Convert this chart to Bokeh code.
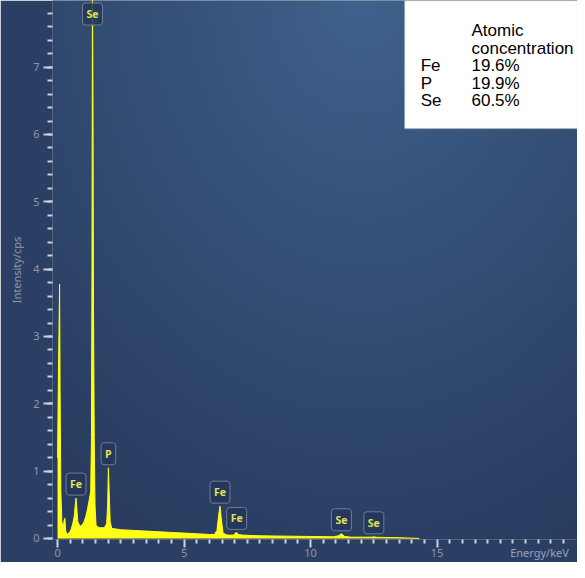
import numpy as np
from bokeh.plotting import figure
from bokeh.models import (Range1d, SingleIntervalTicker, FixedTicker, LinearAxis,
                          BoxAnnotation, ColumnDataSource)
from bokeh.core.properties import value
from bokeh.embed import file_html
from bokeh.resources import INLINE

# ---------------- data ----------------
energy_kev = [0.00, 0.04, 0.08, 0.10, 0.13, 0.17, 0.22, 0.26, 0.29, 0.32, 0.37,
              0.45, 0.53, 0.60, 0.66, 0.70, 0.73, 0.76, 0.80, 0.86, 0.92, 1.00,
              1.05, 1.12, 1.19, 1.26, 1.31, 1.34, 1.36, 1.38, 1.40, 1.42, 1.45,
              1.48, 1.52, 1.58, 1.70, 1.85, 1.94, 1.98, 2.01, 2.04, 2.08, 2.14,
              2.50, 3.00, 3.50, 4.00, 4.50, 5.00, 5.50, 6.00, 6.20, 6.30, 6.37,
              6.42, 6.47, 6.54, 6.70, 6.95, 7.03, 7.08, 7.14, 7.30, 8.00, 9.00,
              10.00, 10.90, 11.10, 11.22, 11.35, 11.60, 12.40, 12.50, 12.60,
              13.50, 14.30]
intensity_cps = [1.20, 2.60, 3.78, 2.20, 0.70, 0.25, 0.15, 0.27, 0.30, 0.12, 0.06,
                 0.08, 0.13, 0.22, 0.33, 0.50, 0.60, 0.45, 0.25, 0.20, 0.18, 0.22,
                 0.25, 0.33, 0.45, 0.59, 0.70, 1.50, 4.00, 8.30, 6.60, 3.50, 1.50,
                 0.50, 0.20, 0.17, 0.16, 0.16, 0.22, 0.50, 1.05, 0.70, 0.25, 0.15,
                 0.13, 0.12, 0.11, 0.10, 0.09, 0.08, 0.07, 0.06, 0.06, 0.12, 0.35,
                 0.48, 0.30, 0.08, 0.05, 0.05, 0.08, 0.09, 0.06, 0.05, 0.04, 0.035,
                 0.03, 0.025, 0.04, 0.07, 0.03, 0.02, 0.02, 0.025, 0.018,
                 0.012, 0.0]

peak_labels = ["Se", "Fe", "P", "Fe", "Fe", "Se", "Se"]
peak_energy = [1.38, 0.73, 2.01, 6.42, 7.08, 11.22, 12.50]

conc_header = ["Atomic", "concentration"]
elements = ["Fe", "P", "Se"]
atomic_conc = ["19.6%", "19.9%", "60.5%"]

x_tick_values = [0, 5, 10, 15]
x_tick_labels = ["0", "5", "10", "15"]
x_minor_step = 0.5
x_axis_end = 20
x_title = "Energy/keV"
y_title = "Intensity/cps"

# ---------------- styling ----------------
X0, X1 = -0.2, 20.55
Y0, Y1 = -0.015, 7.99
X_TITLE_POS = 19.05
EDGE = np.array([41, 60, 96])
CENTER = np.array([64, 98, 140])
BORDER = "#2b3f64"
YELLOW = "#ffff14"
TICK_COL = "#c9d1de"
LAB_COL = "#8c99b0"

p = figure(width=577, height=562, x_range=Range1d(X0, X1), y_range=Range1d(Y0, Y1),
           output_backend="svg", toolbar_location=None,
           min_border_left=52, min_border_right=0, min_border_top=0, min_border_bottom=0)
p.grid.visible = False
p.outline_line_color = None
p.background_fill_color = BORDER
p.border_fill_color = BORDER

# background gradient of the plot panel
nx, ny = 263, 270
U, V = np.meshgrid(np.linspace(0, 1, nx), np.linspace(0, 1, ny))
PX = 60 + U * 525
PY = 548 - V * 540
d = np.sqrt(((PX - 370) / 480.0) ** 2 + ((PY - 0) / 620.0) ** 2)
f = np.clip(1 - d, 0, 1) ** 1.1
rgb = EDGE[None, None, :] + (CENTER - EDGE)[None, None, :] * f[..., None]
img = np.empty((ny, nx), dtype=np.uint32)
view8 = img.view(dtype=np.uint8).reshape((ny, nx, 4))
view8[..., 0] = rgb[..., 0].astype(np.uint8)
view8[..., 1] = rgb[..., 1].astype(np.uint8)
view8[..., 2] = rgb[..., 2].astype(np.uint8)
view8[..., 3] = 255
p.image_rgba(image=[img], x=X0, y=Y0, dw=X1 - X0, dh=Y1 - Y0, level="image")

# spectrum
p.varea(x=energy_kev, y1=0, y2=intensity_cps, fill_color=YELLOW, fill_alpha=1.0)
p.line(energy_kev, intensity_cps, line_color=YELLOW, line_width=1)

# x axis: ticks + numeric labels
minor_pos = [round(i * x_minor_step, 2) for i in range(int(x_axis_end / x_minor_step) + 1)]
minor_pos = [m for m in minor_pos if m not in x_tick_values]
xa = p.xaxis[0]
xa.ticker = FixedTicker(ticks=x_tick_values, minor_ticks=minor_pos)
xa.major_label_overrides = {v: t for v, t in zip(x_tick_values, x_tick_labels)}
ya = p.yaxis[0]
ya.ticker = SingleIntervalTicker(interval=1, num_minor_ticks=5)
for ax in (xa, ya):
    ax.axis_line_color = None
    ax.major_tick_line_color = TICK_COL
    ax.minor_tick_line_color = TICK_COL
    ax.major_tick_line_width = 2
    ax.minor_tick_line_width = 2
    ax.major_tick_in = 0
    ax.minor_tick_in = 0
    ax.major_label_text_color = LAB_COL
    ax.major_label_text_font = "Noto Sans"
    ax.major_label_text_font_size = "11px"
xa.major_tick_out = 8
xa.minor_tick_out = 4
xa.major_label_standoff = 1
ya.major_tick_out = 9
ya.minor_tick_out = 5
ya.major_label_standoff = 4
ya.axis_label = y_title
ya.axis_label_text_color = LAB_COL
ya.axis_label_text_font = "Noto Sans"
ya.axis_label_text_font_style = "normal"
ya.axis_label_text_font_size = "11px"
ya.axis_label_standoff = 6

# x axis title, placed on the same row as the numbers at the right end
xl = LinearAxis(ticker=FixedTicker(ticks=[X_TITLE_POS], minor_ticks=[]),
                major_label_overrides={X_TITLE_POS: x_title})
xl.axis_line_color = None
xl.major_tick_line_color = None
xl.minor_tick_line_color = None
xl.major_tick_out = 0
xl.major_tick_in = 0
xl.minor_tick_out = 0
xl.minor_tick_in = 0
xl.major_label_standoff = -15
xl.major_label_text_color = "#97a3b8"
xl.major_label_text_font = "Noto Sans"
xl.major_label_text_font_size = "11px"
p.add_layout(xl, "below")

# peak labels
e_arr = np.array(energy_kev)
peak_y = [intensity_cps[int(np.argmin(np.abs(e_arr - e)))] for e in peak_energy]
lab_y = [min(v, Y1) for v in peak_y]
lab_off = [-14 if v < Y1 else 13.5 for v in peak_y]
src = ColumnDataSource(dict(x=peak_energy, y=lab_y, text=peak_labels, yoff=lab_off))
p.text(x="x", y="y", text="text", y_offset="yoff", source=src,
       text_align="center", text_baseline="middle", text_color="#e2e252",
       text_font=value("Open Sans"), text_font_size="10.5px", text_font_style="bold",
       background_fill_color="#24375a", background_fill_alpha=0.85,
       border_line_color="#6d7d97", border_line_width=1, padding=4, border_radius=3,
       level="overlay")

# white concentration box
p.add_layout(BoxAnnotation(left=13.72, bottom=6.09, fill_color="white", fill_alpha=1.0,
                           line_color="#c8c8c8", line_width=1.5))
ROW = 17.6
col_el_x = 14.35
col_val_x = 16.36
row_y = 7.545
hdr_src = ColumnDataSource(dict(x=[col_val_x] * len(conc_header), y=[row_y] * len(conc_header),
                                text=conc_header,
                                yoff=[i * ROW for i in range(len(conc_header))]))
el_src = ColumnDataSource(dict(x=[col_el_x] * len(elements), y=[row_y] * len(elements),
                               text=elements,
                               yoff=[(i + 2) * ROW for i in range(len(elements))]))
val_src = ColumnDataSource(dict(x=[col_val_x] * len(atomic_conc), y=[row_y] * len(atomic_conc),
                                text=atomic_conc,
                                yoff=[(i + 2) * ROW for i in range(len(atomic_conc))]))
for s in (hdr_src, el_src, val_src):
    p.text(x="x", y="y", text="text", y_offset="yoff", source=s, text_align="left",
           text_baseline="alphabetic", text_color="black",
           text_font=value("Liberation Sans"), text_font_size="17px", level="overlay")

open("out.html", "w").write(file_html(p, INLINE))
